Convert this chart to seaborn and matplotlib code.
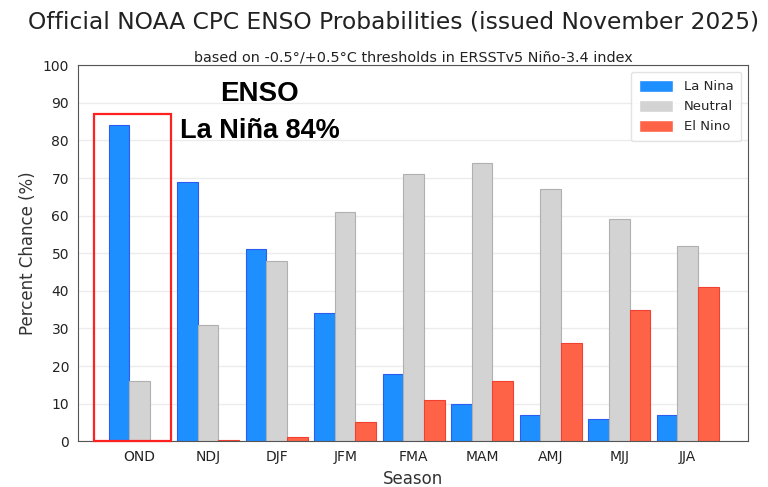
import matplotlib
matplotlib.use("Agg")
import matplotlib.pyplot as plt
import seaborn as sns
import pandas as pd
from matplotlib.patches import Rectangle

seasons = ["OND", "NDJ", "DJF", "JFM", "FMA", "MAM", "AMJ", "MJJ", "JJA"]
la_nina = [84, 69, 51, 34, 18, 10, 7, 6, 7]
neutral = [16, 31, 48, 61, 71, 74, 67, 59, 52]
el_nino = [0, 0.3, 1, 5, 11, 16, 26, 35, 41]
categories = ["La Nina", "Neutral", "El Nino"]

df = pd.DataFrame({
    "Season": seasons * 3,
    "Category": [c for c in categories for _ in seasons],
    "Value": la_nina + neutral + el_nino,
})

sns.set_style("white")
plt.rcParams["font.family"] = ["DejaVu Sans"]

fig = plt.figure(figsize=(7.68, 4.87), dpi=100)
ax = fig.add_axes([0.1016, 0.094, 0.8724, 0.772])

palette = {"La Nina": "#1E8FFF", "Neutral": "#D3D3D3", "El Nino": "#FF6347"}
sns.barplot(data=df, x="Season", y="Value", hue="Category", hue_order=categories,
            palette=palette, width=0.9, ax=ax, saturation=1)

edge = {"La Nina": "#2c5cf0", "Neutral": "#b0b0b0", "El Nino": "#f04030"}
for cont, cat in zip(ax.containers, categories):
    for p in cont:
        p.set_edgecolor(edge[cat])
        p.set_linewidth(0.8)

ax.set_ylim(0, 100)
ax.set_xlim(-0.9, 8.88)
ax.set_yticks(range(0, 101, 10))
ax.yaxis.grid(True, color="#ececec", linewidth=1)
ax.set_axisbelow(True)
for s in ax.spines.values():
    s.set_color("#555555")
    s.set_linewidth(0.8)
ax.tick_params(axis="both", labelsize=10, colors="#333333", length=3)
ax.tick_params(axis="both", labelcolor="#222222")
ax.set_xlabel("Season", fontsize=12, color="#333333")
ax.set_ylabel("Percent Chance (%)", fontsize=12, color="#333333")

leg = ax.legend(loc="upper right", fontsize=9.5, frameon=True, handlelength=2.6,
                handleheight=1.0, borderpad=0.6)
leg.get_frame().set_edgecolor("#dddddd")

fig.text(0.512, 0.955, "Official NOAA CPC ENSO Probabilities (issued November 2025)",
         ha="center", va="center", fontsize=16.8, color="#222222")
ax.set_title("based on -0.5\u00b0/+0.5\u00b0C thresholds in ERSSTv5 Ni\u00f1o-3.4 index",
             fontsize=10.4, color="#222222", pad=3)

ax.text(1.75, 92.3, "ENSO", ha="center", va="center", fontsize=20,
        fontweight="bold", family=["Liberation Sans"], color="black")
ax.text(1.75, 82.5, "La Niña 84%", ha="center", va="center", fontsize=19.5,
        fontweight="bold", family=["Liberation Sans"], color="black")

ax.add_patch(Rectangle((-0.67, 0), 1.12, 87, fill=False, edgecolor="#ff2020",
                       linewidth=1.6, zorder=5, clip_on=False))

fig.savefig("out.png", dpi=100)
